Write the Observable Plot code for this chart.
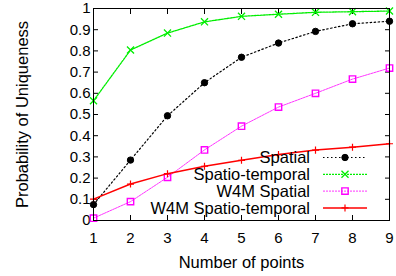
<!DOCTYPE html>
<html>
<head>
<meta charset="utf-8">
<script src="https://cdn.jsdelivr.net/npm/d3@7"></script>
<script src="https://cdn.jsdelivr.net/npm/@observablehq/plot@0.6"></script>
<style>
  html, body { margin: 0; padding: 0; background: white; }
  #chart { width: 396px; height: 276px; }
</style>
</head>
<body>
<div id="chart"></div>
<script>
const xs = [1, 2, 3, 4, 5, 6, 7, 8, 9];
const spatial = [0.075, 0.285, 0.494, 0.65, 0.77, 0.837, 0.892, 0.928, 0.94];
const spatioTemporal = [0.565, 0.804, 0.884, 0.937, 0.963, 0.973, 0.982, 0.985, 0.988];
const w4mSpatial = [0.011, 0.089, 0.204, 0.333, 0.445, 0.535, 0.60, 0.667, 0.719];
const w4mSpatioTemporal = [0.101, 0.172, 0.221, 0.256, 0.284, 0.311, 0.332, 0.346, 0.362];
const seriesNames = ["Spatial", "Spatio-temporal", "W4M Spatial", "W4M Spatio-temporal"];
const yTicks = [0, 0.1, 0.2, 0.3, 0.4, 0.5, 0.6, 0.7, 0.8, 0.9, 1];
const xTitle = "Number of points";
const yTitle = "Probability of Uniqueness";

const styles = [
  {stroke: "#000000", dash: "1.5,2.5", width: 1.2, symbol: "circle", fill: "#000000", r: 3.2, d3sym: d3.symbolCircle, sw: 1},
  {stroke: "#00ee00", dash: "2,1", width: 1.3, symbol: "times", fill: "none", r: 3.3, d3sym: d3.symbolTimes, sw: 1.3},
  {stroke: "#ff00ff", dash: "2,1", width: 0.8, symbol: "square", fill: "none", r: 3.6, d3sym: d3.symbolSquare, sw: 1.4},
  {stroke: "#ff0000", dash: null, width: 1.5, symbol: "plus", fill: "none", r: 2.4, d3sym: d3.symbolPlus, sw: 1.2}
];
const values = [spatial, spatioTemporal, w4mSpatial, w4mSpatioTemporal];
const tables = values.map(v => xs.map((x, i) => ({x, y: v[i]})));

const font = "'Liberation Sans', Arial, Helvetica, sans-serif";
const marks = [];
tables.forEach((t, i) => {
  const s = styles[i];
  marks.push(Plot.line(t, {x: "x", y: "y", stroke: s.stroke, strokeWidth: s.width, strokeDasharray: s.dash}));
  marks.push(Plot.dot(t, {x: "x", y: "y", symbol: () => s.symbol, r: s.r,
    stroke: s.stroke, fill: s.fill, strokeWidth: s.sw}));
});

const chart = Plot.plot({
  width: 396,
  height: 276,
  marginLeft: 93,
  marginRight: 7,
  marginTop: 8,
  marginBottom: 56,
  style: {fontFamily: font, fontSize: "15px", background: "white", color: "black"},
  x: {domain: [1, 9]},
  y: {domain: [0, 1]},
  marks: [
    Plot.axisX(xs, {anchor: "bottom", tickSize: 0, tickPadding: 12, label: null, fontSize: 15}),
    Plot.axisX(xs, {anchor: "bottom", tickSize: -5, tickFormat: () => "", label: null}),
    Plot.axisX(xs, {anchor: "top", tickSize: -5, tickFormat: () => "", label: null}),
    Plot.axisY(yTicks, {anchor: "left", tickSize: 0, tickPadding: 3, label: null, fontSize: 15, tickFormat: d => String(+d.toFixed(1))}),
    Plot.axisY(yTicks, {anchor: "left", tickSize: -5, tickFormat: () => "", label: null}),
    Plot.axisY(yTicks, {anchor: "right", tickSize: -5, tickFormat: () => "", label: null}),
    ...marks,
    Plot.frame({stroke: "black", strokeWidth: 1}),
    Plot.text([xTitle], {text: d => d, frameAnchor: "bottom", dy: 42, fontSize: 16.5, lineAnchor: "middle"}),
    Plot.text([yTitle], {text: d => d, frameAnchor: "left", dx: -71, rotate: -90, fontSize: 16.5, textAnchor: "middle", lineAnchor: "middle"})
  ]
});
document.getElementById("chart").appendChild(chart);

// legend (key) inside the plot, gnuplot style
const svg = d3.select(chart);
const key = svg.append("g").attr("font-family", font).attr("font-size", 16.5);
const keyTextRight = 310, keyLineX1 = 323, keyLineX2 = 367, keyY0 = 157.5, keyStep = 16.8;
seriesNames.forEach((name, i) => {
  const s = styles[i];
  const y = keyY0 + i * keyStep;
  key.append("text").attr("x", keyTextRight).attr("y", y).attr("dy", "0.35em")
    .attr("text-anchor", "end").attr("fill", "black").text(name);
  key.append("line").attr("x1", keyLineX1).attr("x2", keyLineX2).attr("y1", y).attr("y2", y)
    .attr("stroke", s.stroke).attr("stroke-width", s.width)
    .attr("stroke-dasharray", s.dash);
  key.append("path").attr("transform", `translate(${(keyLineX1 + keyLineX2) / 2},${y})`)
    .attr("d", d3.symbol(s.d3sym, Math.PI * s.r * s.r)())
    .attr("fill", s.fill).attr("stroke", s.stroke).attr("stroke-width", s.sw);
});
</script>
</body>
</html>
